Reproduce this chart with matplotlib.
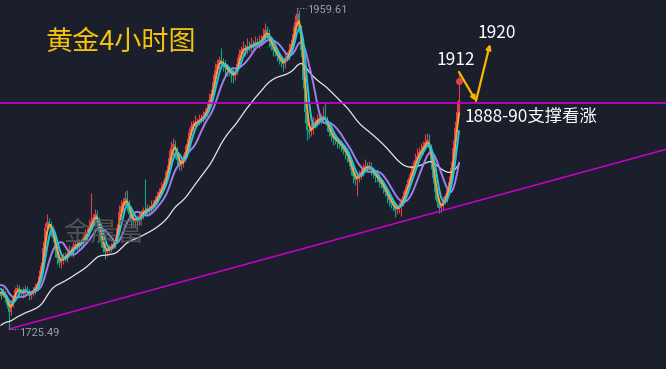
import numpy as np
import pandas as pd
import matplotlib
matplotlib.use("Agg")
import matplotlib.pyplot as plt

# hidden history before the visible window (only feeds the moving averages)
warmup = [1706, 1702, 1708, 1704, 1700, 1705, 1709, 1703, 1707, 1701,
          1704, 1708, 1702, 1706, 1710, 1705, 1701, 1707, 1703, 1709,
          1704, 1708, 1706, 1702, 1707, 1711, 1705, 1709, 1704, 1708,
          1712, 1714, 1716, 1715, 1718, 1720, 1722, 1724, 1726, 1730,
          1748, 1755, 1759, 1762, 1764, 1762, 1760, 1757, 1755, 1752]

# 4h closes of the visible window
closes = [1749.6, 1752.5, 1748.1, 1743.0, 1738.0, 1744.5, 1749.6, 1754.0, 1755.4, 1751.8,
          1754.0, 1751.0, 1754.7, 1752.5, 1749.6, 1751.8, 1754.0, 1756.2, 1758.4, 1764.2,
          1771.5, 1784.6, 1799.2, 1803.6, 1802.1, 1797.7, 1791.9, 1783.1, 1777.3, 1773.7,
          1775.9, 1778.8, 1777.3, 1780.2, 1783.1, 1781.7, 1786.1, 1787.5, 1786.1, 1789.0,
          1787.5, 1791.9, 1794.8, 1796.3, 1800.7, 1803.6, 1806.5, 1809.4, 1805.0, 1796.3,
          1789.0, 1784.6, 1781.7, 1783.1, 1784.6, 1786.1, 1787.5, 1790.4, 1799.2, 1810.9,
          1815.3, 1818.2, 1821.1, 1816.7, 1809.4, 1805.0, 1803.6, 1806.5, 1803.6, 1808.0,
          1809.4, 1812.3, 1810.9, 1813.8, 1812.3, 1815.3, 1816.7, 1819.6, 1822.5, 1825.5,
          1828.4, 1831.3, 1835.7, 1841.5, 1850.3, 1857.5, 1860.5, 1856.1, 1848.8, 1844.4,
          1845.9, 1850.3, 1854.6, 1860.5, 1869.2, 1873.6, 1875.1, 1876.5, 1876.5, 1878.0,
          1879.4, 1880.9, 1883.8, 1886.7, 1892.6, 1896.9, 1905.7, 1914.4, 1918.8, 1921.7,
          1920.3, 1917.4, 1915.9, 1914.4, 1913.0, 1911.5, 1910.1, 1913.0, 1918.8, 1926.1,
          1929.0, 1930.5, 1929.0, 1931.9, 1930.5, 1933.4, 1931.9, 1934.9, 1933.4, 1934.9,
          1936.3, 1939.2, 1943.6, 1940.7, 1936.3, 1931.9, 1929.0, 1927.6, 1924.7, 1921.7,
          1920.3, 1918.8, 1923.2, 1924.7, 1929.0, 1933.4, 1940.7, 1949.5, 1955.3, 1945.1,
          1929.0, 1907.1, 1883.8, 1870.7, 1869.2, 1872.1, 1875.1, 1876.5, 1878.0, 1879.4,
          1878.0, 1880.9, 1878.0, 1873.6, 1869.2, 1866.3, 1864.8, 1863.4, 1861.9, 1860.5,
          1859.0, 1856.1, 1854.6, 1851.7, 1847.3, 1841.5, 1837.1, 1834.2, 1835.7, 1838.6,
          1840.0, 1843.0, 1844.4, 1843.0, 1844.4, 1841.5, 1838.6, 1837.1, 1835.7, 1832.8,
          1831.3, 1828.4, 1825.5, 1822.5, 1819.6, 1816.7, 1815.3, 1812.3, 1813.8, 1815.3,
          1818.2, 1822.5, 1826.9, 1831.3, 1835.7, 1840.0, 1844.4, 1848.8, 1851.7, 1854.6,
          1856.1, 1859.0, 1861.9, 1863.4, 1857.5, 1847.3, 1835.7, 1825.5, 1818.2, 1813.8,
          1815.3, 1819.6, 1822.5, 1826.9, 1832.8, 1843.0, 1857.5, 1872.1, 1883.8, 1892.6]

upper_wick = [2, 3, 1, 2, 3, 2, 1, 2, 3, 2,  1, 2, 3, 2, 2, 1, 2, 3, 2, 4,
              3, 5, 4, 6, 3, 2, 3, 2, 4, 2,  3, 2, 3, 2, 4, 2, 3, 2, 3, 2,
              2, 3, 4, 3, 5, 21, 3, 4, 3, 2,  3, 2, 4, 2, 3, 2, 3, 4, 3, 5,
              4, 3, 5, 6, 3, 2, 4, 3, 2, 3,  3, 2, 23, 3, 2, 4, 3, 3, 4, 3,
              4, 3, 5, 4, 6, 5, 4, 3, 2, 3,  4, 3, 5, 4, 3, 4, 3, 5, 3, 4,
              3, 4, 3, 4, 5, 4, 6, 5, 4, 3,  9, 3, 4, 3, 2, 3, 4, 3, 5, 4,
              3, 5, 3, 6, 4, 5, 3, 4, 3, 5,  4, 6, 5, 3, 4, 2, 3, 4, 3, 2,
              3, 2, 4, 3, 5, 4, 6, 5, 4.31, 3,  2, 3, 2, 3, 5, 4, 6, 3, 4, 5,
              3, 7, 9.5, 3, 2, 3, 4, 3, 2, 3,  3, 2, 4, 3, 2, 3, 2, 3, 4, 3,
              4, 3, 5, 3, 4, 3, 2, 3, 4, 3,  2, 3, 2, 3, 2, 3, 2, 3, 2, 3,
              3, 4, 3, 4, 3, 5, 4, 5, 6, 4,  5, 4, 6, 5, 4, 3, 2, 3, 2, 3,
              2, 3, 2, 3, 4, 5, 6, 5, 8, 19.4]

lower_wick = [2, 1, 3, 2, 12.51, 2, 3, 2, 1, 3,  2, 3, 2, 1, 3, 2, 2, 3, 1, 2,
              2, 3, 2, 4, 3, 4, 3, 5, 4, 3,  4, 3, 2, 3, 2, 3, 4, 2, 3, 2,
              3, 2, 3, 4, 2, 3, 3, 2, 4, 5,  4, 3, 5, 3, 2, 3, 2, 3, 2, 3,
              3, 4, 2, 5, 4, 6, 3, 4, 3, 2,  3, 4, 3, 2, 3, 2, 3, 2, 3, 2,
              2, 3, 2, 3, 4, 3, 5, 6, 4, 3,  3, 2, 3, 2, 3, 2, 3, 2, 3, 2,
              2, 3, 2, 3, 2, 3, 2, 3, 2, 3,  3, 4, 5, 4, 3, 6, 5, 3, 2, 3,
              2, 3, 4, 3, 2, 3, 2, 3, 2, 3,  3, 2, 3, 4, 5, 3, 4, 3, 4, 3,
              4, 5, 3, 2, 3, 2, 3, 2, 3, 4,  5, 6, 8, 7, 4, 3, 4, 3, 2, 3,
              3, 2, 3, 4, 3, 4, 5, 3, 4, 3,  4, 3, 5, 4, 3, 4, 5, 4, 12, 3,
              4, 3, 2, 3, 2, 4, 3, 4, 3, 4,  3, 4, 3, 5, 4, 3, 4, 5, 3, 4,
              7.4, 3, 2, 3, 2, 3, 2, 3, 2, 3,  2, 3, 2, 3, 4, 5, 4, 5, 4, 3.7,
              3, 2, 3, 4, 3, 4, 5, 4, 3, 2]

ma_periods = [10, 3, 5]
ma_colors = ['#a07fe6', '#f7a33c', '#1fc6e3']
ema_span = 46
ema_color = '#e6e6e6'
support_level = 1890.4
trend_slope = 0.399          # $ per candle
last_mark = 1906.5           # red dot on the last candle
title = '黄金4小时图'
note_low = '1888-90支撑看涨'
note_mid = '1912'
note_top = '1920'
watermark = '金晨富'

bg = '#1a1f2b'
cjk = ['Noto Sans CJK SC', 'DejaVu Sans']
W, H = 666, 369

c = np.array(closes)
opens = np.r_[warmup[-1], c[:-1]]
highs = np.maximum(opens, c) + np.array(upper_wick)
lows = np.minimum(opens, c) - np.array(lower_wick)
x = np.arange(len(c))
series = pd.Series(warmup + closes, dtype=float)
nw = len(warmup)

fig = plt.figure(figsize=(W / 100, H / 100), dpi=100, facecolor=bg)
ax = fig.add_axes([0, 0, 1, 1])
ax.set_facecolor(bg)
y_top = 1965.5
y_bot = y_top - 0.7294 * H
ax.set_xlim(-0.5, W / 2 - 0.5)
ax.set_ylim(y_bot, y_top)
ax.axis('off')


def px(xp, yp):
    # pixel position in the picture -> data coordinates
    return xp / 2 - 0.5, y_top - 0.7294 * yp


# candles
up = c >= opens
cols = np.where(up, '#d9404f', '#17a08c')
ax.vlines(x, lows, highs, colors=cols, lw=0.8, zorder=2)
body = np.maximum(np.abs(c - opens), 0.5)
ax.bar(x, body, bottom=np.minimum(opens, c), width=0.75, color=cols, lw=0, zorder=2)

# moving averages
ema = series.ewm(span=ema_span, adjust=False).mean().values[nw:]
ax.plot(x, ema, color=ema_color, lw=0.9, zorder=3)
for p, col in zip(ma_periods, ma_colors):
    ma = series.rolling(p).mean().values[nw:]
    ax.plot(x, ma, color=col, lw=1.4, zorder=3)

# support line and rising trendline
ax.axhline(support_level, color='#cc00cc', lw=1.2, zorder=4)
i_lo = int(np.argmin(lows))
lo = lows[i_lo]
tx = np.array([i_lo, W / 2])
ax.plot(tx, lo + trend_slope * (tx - i_lo), color='#cc00cc', lw=1.1, zorder=4)

# high / low markers
i_hi = int(np.argmax(highs))
hi = highs[i_hi]
ax.plot([i_hi, i_hi + 4.5], [hi, hi], color='#9aa0aa', lw=0.8, ls=(0, (1, 1.5)), zorder=5)
ax.text(i_hi + 5.0, hi - 1.2, f'{hi:.2f}', color='#9aa0aa', fontsize=8,
        family='Roboto', va='center', ha='left')
ax.plot([i_lo, i_lo + 4.5], [lo, lo], color='#9aa0aa', lw=0.8, ls=(0, (1, 1.5)), zorder=5)
ax.text(i_lo + 5.0, lo - 3, f'{lo:.2f}', color='#9aa0aa', fontsize=8,
        family='Roboto', va='center', ha='left')

# last price dot
ax.plot([x[-1]], [last_mark], 'o', color='#e0404f', ms=4, zorder=6)

# projected path arrows
p0, p1, p2 = px(459, 72), px(476, 101), px(490, 44)
arrow = dict(arrowstyle='-|>', color='#f5b800', lw=1.6, mutation_scale=7,
             shrinkA=0, shrinkB=0)
ax.annotate('', xy=p1, xytext=p0, arrowprops=arrow, zorder=7)
ax.annotate('', xy=p2, xytext=p1, arrowprops=arrow, zorder=7)

# texts
fig.text(121 / W, 1 - 42 / H, title, color='#f5c20e', fontsize=19.5,
         family=cjk, ha='center', va='center')
fig.text(104 / W, 1 - 233 / H, watermark, color='#5e5e5e', alpha=0.8,
         fontsize=19.5, family=cjk, ha='center', va='center', zorder=8)
fig.text(497 / W, 1 - 33 / H, note_top, color='white', fontsize=12.5,
         family=cjk, ha='center', va='center')
fig.text(456 / W, 1 - 60 / H, note_mid, color='white', fontsize=12.5,
         family=cjk, ha='center', va='center')
fig.text(465 / W, 1 - 117 / H, note_low, color='white', fontsize=12.5,
         family=cjk, ha='left', va='center')

fig.savefig('out.png', dpi=100, facecolor=bg)
